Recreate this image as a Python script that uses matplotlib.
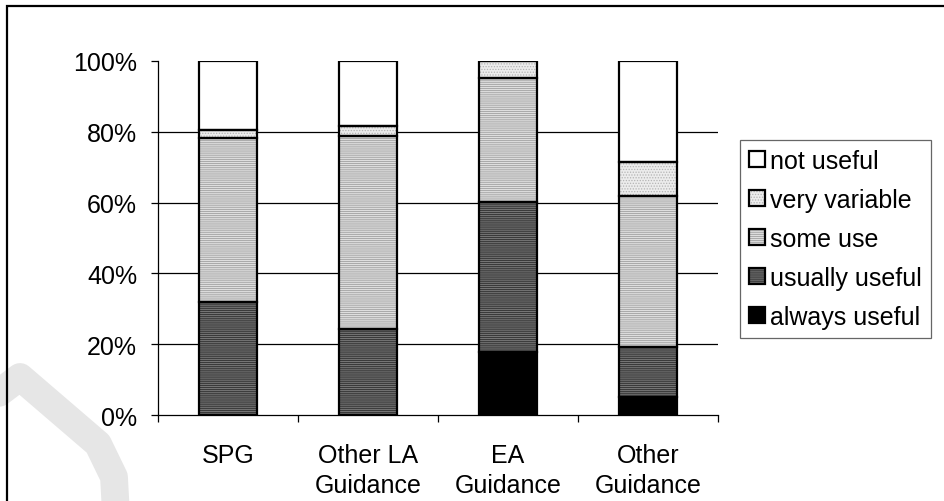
import matplotlib
matplotlib.use("Agg")
import matplotlib.pyplot as plt
from matplotlib.patches import Patch, Rectangle
from matplotlib.lines import Line2D
import numpy as np

plt.rcParams['font.family'] = ['Liberation Sans', 'DejaVu Sans']
plt.rcParams['hatch.linewidth'] = 0.6

categories = ["SPG", "Other LA\nGuidance", "EA\nGuidance", "Other\nGuidance"]
series_names = ["always useful", "usually useful", "some use", "very variable", "not useful"]
always_useful = [0.0, 0.0, 17.7, 5.0]
usually_useful = [31.9, 24.3, 42.4, 14.3]
some_use = [46.3, 54.6, 35.0, 42.6]
very_variable = [2.4, 2.8, 4.9, 9.5]
not_useful = [19.4, 18.3, 0.0, 28.6]
yticks = [0, 20, 40, 60, 80, 100]
ytick_labels = ["0%", "20%", "40%", "60%", "80%", "100%"]

values = [always_useful, usually_useful, some_use, very_variable, not_useful]
styles = [
    dict(face="#000000", hatch=None, hcol="#000000"),
    dict(face="#3a3a3a", hatch="--------", hcol="#808080"),
    dict(face="#dedede", hatch="--------", hcol="#a0a0a0"),
    dict(face="#ececec", hatch="......", hcol="#b4b4b4"),
    dict(face="#ffffff", hatch=None, hcol="#ffffff"),
]

FS = 18
W, H = 944, 502
fig = plt.figure(figsize=(W / 100, H / 100), dpi=100)

# watermark (faint)
wm = Line2D(np.array([-25, 20, 98, 114, 116]) / W,
            1 - np.array([412, 378, 445, 478, 515]) / H,
            transform=fig.transFigure, color="#e6e6e6", lw=20,
            solid_joinstyle="round", solid_capstyle="round", zorder=0)
fig.add_artist(wm)

# outer frame
fig.add_artist(Rectangle((7 / W, -0.05), 1.2, 1 - 7 / H + 0.05, transform=fig.transFigure,
                         fill=False, edgecolor="black", lw=1.6, zorder=1))

ax = fig.add_axes([158 / W, 1 - 416 / H, 560 / W, 354 / H])
ax.patch.set_visible(False)
x = np.arange(len(categories))
bw = 0.41
bottom = np.zeros(len(categories))
handles = []
for name, vals, st in zip(series_names, values, styles):
    vals = np.array(vals)
    ax.bar(x, vals, bw, bottom=bottom, color=st["face"], edgecolor=st["hcol"],
           hatch=st["hatch"], linewidth=0, zorder=2)
    ax.bar(x, vals, bw, bottom=bottom, facecolor="none", edgecolor="black",
           linewidth=1.6, zorder=3)
    bottom += vals
    h1 = Patch(facecolor=st["face"], edgecolor=st["hcol"], hatch=st["hatch"], linewidth=0)
    h2 = Patch(facecolor="none", edgecolor="black", linewidth=1.6)
    handles.append((h1, h2))

ax.set_xlim(-0.5, len(categories) - 0.5)
ax.set_ylim(0, 100)
for g in [20, 40, 60, 80]:
    ax.axhline(g, color="black", lw=0.9, zorder=1)
for s in ["top", "right"]:
    ax.spines[s].set_visible(False)
for s in ["left", "bottom"]:
    ax.spines[s].set_linewidth(0.9)
ax.set_yticks(yticks)
ax.set_yticklabels(ytick_labels)
ax.set_xticks(x)
ax.set_xticklabels(categories, linespacing=1.32)
ax.set_xticks(np.arange(len(categories) + 1) - 0.5, minor=True)
ax.tick_params(axis="x", which="major", length=0, pad=20, labelsize=FS)
ax.tick_params(axis="x", which="minor", length=5, width=0.9, direction="out")
ax.tick_params(axis="y", length=5, width=0.9, direction="out", pad=10, labelsize=FS)

leg = fig.legend(handles[::-1], series_names[::-1], loc="upper left",
                 bbox_to_anchor=(740 / W, 1 - 141 / H), borderaxespad=0,
                 fontsize=FS, frameon=True, fancybox=False, edgecolor="#404040",
                 handlelength=0.65, handleheight=0.65, handletextpad=0.2,
                 labelspacing=0.6, borderpad=0.35)
leg.get_frame().set_linewidth(0.9)

fig.savefig("out.png", dpi=100)
